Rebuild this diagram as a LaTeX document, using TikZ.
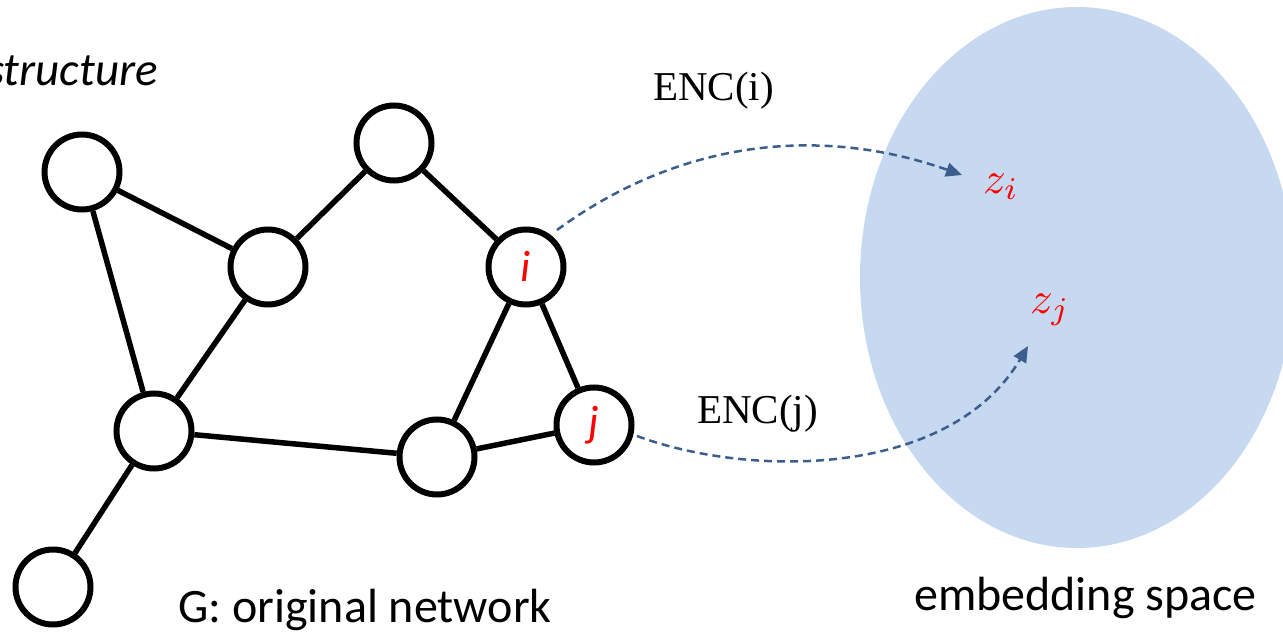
\documentclass[tikz,border=0pt]{standalone}
\usepackage{fontspec}
\newfontfamily\carl{Carlito}
\newfontfamily\tnr{Liberation Serif}
\usetikzlibrary{arrows.meta}
\definecolor{embblue}{RGB}{198,217,240}
\definecolor{arrowblue}{RGB}{59,94,140}
\definecolor{labred}{RGB}{255,0,0}
\tikzset{
  vert/.style={circle,draw=black,line width=6pt,fill=white,minimum size=75pt,inner sep=0pt,
    font=\carl\itshape\fontsize{44}{50}\selectfont,text=labred},
  edge/.style={line width=5.5pt,draw=black},
  enc/.style={draw=arrowblue,line width=2.5pt,dash pattern=on 8pt off 5pt,
    -{Triangle[length=16pt,width=14pt]}},
  sanslab/.style={font=\carl\fontsize{48}{56}\selectfont,inner sep=0pt},
  serlab/.style={font=\tnr\fontsize{41}{48}\selectfont,inner sep=0pt},
  zlab/.style={text=labred,inner sep=0pt}
}
\begin{document}
\begin{tikzpicture}[x=1pt,y=-1pt]
\useasboundingbox (0,0) rectangle (1283,634);
% embedding space
\fill[embblue] (1077,277.5) ellipse [x radius=217, y radius=270.5];
% nodes
\node[vert] (a) at (82,172) {};
\node[vert] (b) at (394,143) {};
\node[vert] (c) at (268,267) {};
\node[vert] (i) at (526,267) {\raisebox{2pt}{i}};
\node[vert] (e) at (154,431) {};
\node[vert] (f) at (437,457) {};
\node[vert] (j) at (594,425) {j};
\node[vert] (h) at (53,587) {};
% edges
\draw[edge] (a) -- (c);
\draw[edge] (a) -- (e);
\draw[edge] (b) -- (c);
\draw[edge] (b) -- (i);
\draw[edge] (c) -- (e);
\draw[edge] (e) -- (f);
\draw[edge] (e) -- (h);
\draw[edge] (f) -- (i);
\draw[edge] (f) -- (j);
\draw[edge] (i) -- (j);
% labels
\node[sanslab,font=\carl\itshape\fontsize{47}{56}\selectfont,anchor=base east] (struct) at (158,85) {structure};
\node[sanslab,anchor=base west] (glab) at (178,622) {G: original network};
\node[sanslab,anchor=base west] (elab) at (914,610) {embedding space};
\node[serlab,anchor=base west] (enci) at (653,100) {ENC(i)};
\node[serlab,anchor=base west] (encj) at (697,423) {ENC(j)};
\node[zlab,anchor=base west] (zi) at (983,193) {\scalebox{4.5}{$z_i$}};
\node[zlab,anchor=base west] (zj) at (1030,313) {\scalebox{4.5}{$z_j$}};
% encoder arrows
\coordinate (si) at (557,230);
\coordinate (ti) at (962,175);
\coordinate (sj) at (637,436);
\coordinate (tj) at (1028,346);
\draw[enc] (si) .. controls (680,140) and (820,125) .. (ti);
\draw[enc] (sj) .. controls (750,478) and (950,478) .. (tj);
\end{tikzpicture}
\end{document}
